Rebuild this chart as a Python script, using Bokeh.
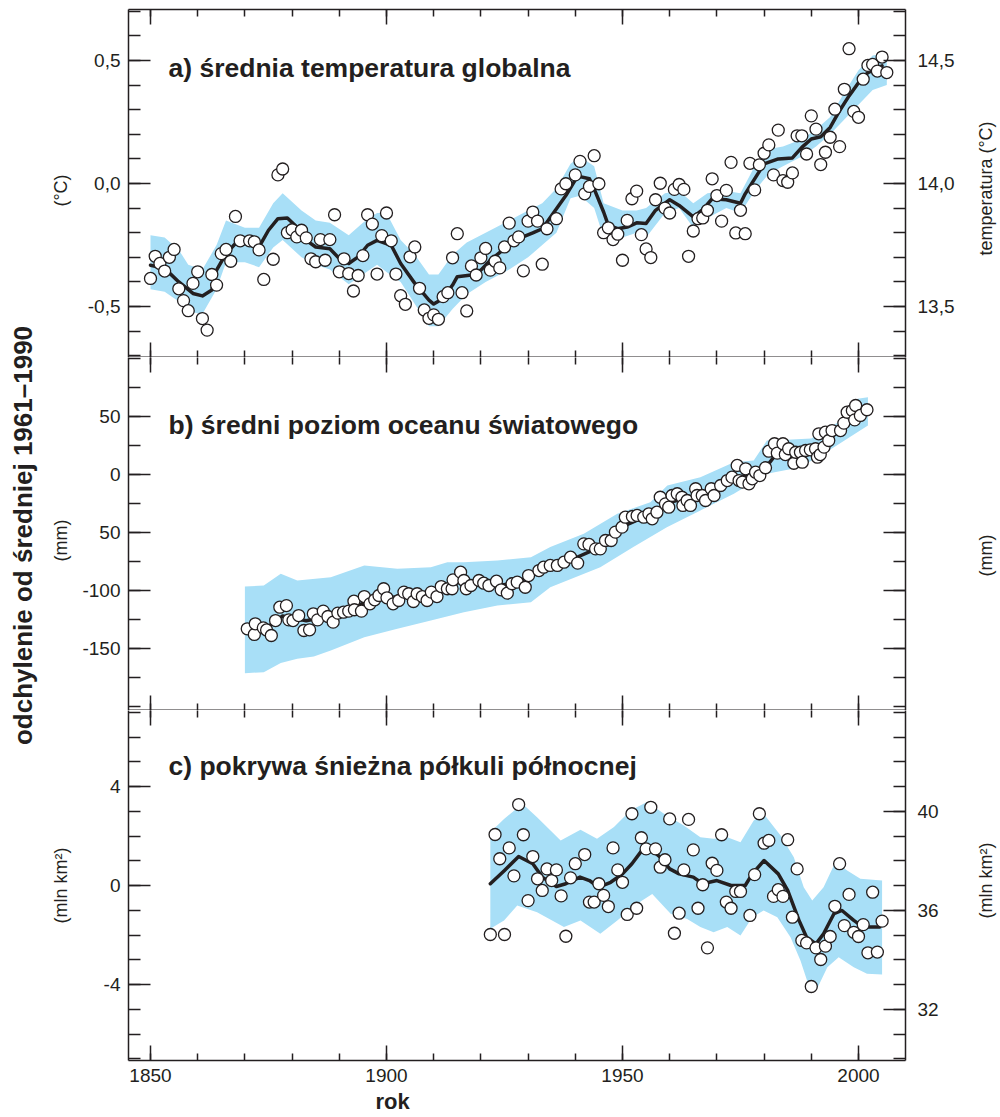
import math
from bokeh.plotting import figure
from bokeh.layouts import column, row
from bokeh.models import Range1d, LinearAxis, FixedTicker, Label, Title
from bokeh.embed import file_html
from bokeh.resources import INLINE

# ---------------- data ----------------
# a) global mean temperature anomaly (degC, vs 1961-1990)
temp_years = [1850, 1851, 1852, 1853, 1854, 1855, 1856, 1857, 1858, 1859, 1860, 1861, 1862, 1863,
              1864, 1865, 1866, 1867, 1868, 1869, 1871, 1872, 1873, 1874, 1876, 1877, 1878, 1879,
              1880, 1881, 1882, 1883, 1884, 1885, 1886, 1887, 1888, 1889, 1890, 1891, 1892, 1893,
              1894, 1895, 1896, 1897, 1898, 1899, 1900, 1901, 1902, 1903, 1904, 1905, 1906, 1907,
              1908, 1909, 1910, 1911, 1912, 1913, 1914, 1915, 1916, 1917, 1918, 1919, 1920, 1921,
              1922, 1923, 1924, 1925, 1926, 1927, 1928, 1929, 1930, 1931, 1932, 1933, 1934, 1936,
              1937, 1938, 1940, 1941, 1942, 1943, 1944, 1945, 1946, 1947, 1948, 1949, 1950, 1951,
              1952, 1953, 1954, 1955, 1956, 1957, 1958, 1959, 1960, 1961, 1962, 1963, 1964, 1965,
              1966, 1967, 1968, 1969, 1970, 1971, 1972, 1973, 1974, 1975, 1976, 1977, 1978, 1979,
              1980, 1981, 1982, 1983, 1984, 1985, 1986, 1987, 1988, 1989, 1990, 1991, 1992, 1993,
              1994, 1995, 1996, 1997, 1998, 1999, 2000, 2001, 2002, 2003, 2004, 2005, 2006]
temp_vals = [-0.386, -0.296, -0.325, -0.356, -0.300, -0.268, -0.428, -0.476, -0.517, -0.406, -0.359,
             -0.549, -0.596, -0.370, -0.413, -0.285, -0.268, -0.316, -0.134, -0.233, -0.233, -0.237,
             -0.270, -0.390, -0.308, 0.035, 0.059, -0.200, -0.188, -0.217, -0.190, -0.221, -0.306,
             -0.318, -0.228, -0.312, -0.228, -0.127, -0.359, -0.306, -0.366, -0.437, -0.374, -0.293,
             -0.127, -0.165, -0.368, -0.212, -0.120, -0.233, -0.368, -0.456, -0.491, -0.298, -0.258,
             -0.426, -0.514, -0.548, -0.534, -0.552, -0.460, -0.444, -0.302, -0.204, -0.444, -0.518,
             -0.335, -0.372, -0.302, -0.264, -0.352, -0.316, -0.343, -0.258, -0.161, -0.233, -0.217,
             -0.355, -0.153, -0.116, -0.153, -0.328, -0.184, -0.143, -0.022, -0.001, 0.035, 0.090,
             -0.042, -0.012, 0.113, -0.001, -0.200, -0.180, -0.228, -0.206, -0.312, -0.150, -0.062,
             -0.031, -0.208, -0.266, -0.301, -0.066, 0.001, -0.100, -0.120, -0.024, -0.004, -0.024,
             -0.296, -0.193, -0.143, -0.140, -0.109, 0.019, -0.049, -0.153, -0.028, 0.086, -0.201,
             -0.109, -0.204, 0.082, -0.026, 0.076, 0.123, 0.157, 0.035, 0.217, 0.012, 0.005, 0.043,
             0.194, 0.194, 0.120, 0.275, 0.221, 0.077, 0.127, 0.188, 0.302, 0.150, 0.383, 0.548,
             0.293, 0.269, 0.424, 0.480, 0.484, 0.457, 0.514, 0.451]
temp_smooth_years = [1850, 1853, 1856, 1859, 1861, 1863, 1864, 1866, 1868, 1871, 1873, 1875, 1877,
                     1879, 1881, 1883, 1885, 1888, 1890, 1892, 1894, 1896, 1898, 1901, 1903, 1906,
                     1909, 1910, 1912, 1914, 1915, 1918, 1920, 1922, 1925, 1928, 1931, 1933, 1935,
                     1938, 1940, 1941, 1943, 1944, 1946, 1947, 1949, 1951, 1953, 1955, 1957, 1960,
                     1962, 1965, 1967, 1969, 1972, 1975, 1976, 1978, 1980, 1983, 1986, 1988, 1990,
                     1992, 1994, 1996, 1998, 2000, 2002, 2005]
temp_smooth = [-0.332, -0.345, -0.400, -0.447, -0.457, -0.433, -0.352, -0.285, -0.244, -0.244, -0.258,
               -0.190, -0.143, -0.140, -0.177, -0.231, -0.258, -0.265, -0.305, -0.325, -0.298, -0.251,
               -0.231, -0.251, -0.325, -0.406, -0.474, -0.490, -0.467, -0.413, -0.379, -0.372, -0.352,
               -0.312, -0.265, -0.224, -0.201, -0.184, -0.130, -0.049, 0.015, 0.028, 0.019, -0.022,
               -0.116, -0.170, -0.184, -0.177, -0.160, -0.163, -0.109, -0.066, -0.089, -0.136, -0.106,
               -0.062, -0.066, -0.080, -0.042, 0.019, 0.080, 0.100, 0.104, 0.147, 0.181, 0.190, 0.228,
               0.296, 0.356, 0.410, 0.451, 0.478]
temp_band_years = [1850, 1853, 1856, 1858, 1861, 1864, 1866, 1870, 1873, 1876, 1878, 1882, 1885, 1888,
                   1892, 1895, 1898, 1900, 1903, 1906, 1909, 1911, 1914, 1917, 1921, 1926, 1930, 1933,
                   1936, 1939, 1941, 1944, 1946, 1950, 1953, 1955, 1959, 1962, 1965, 1968, 1972, 1975,
                   1978, 1981, 1984, 1988, 1991, 1994, 1997, 2000, 2003, 2006]
temp_band_hi = [-0.21, -0.22, -0.27, -0.33, -0.35, -0.25, -0.15, -0.18, -0.18, -0.08, -0.04, -0.11,
                -0.15, -0.16, -0.21, -0.16, -0.12, -0.12, -0.23, -0.29, -0.37, -0.37, -0.29, -0.24,
                -0.20, -0.15, -0.11, -0.08, -0.02, 0.08, 0.11, 0.07, -0.08, -0.11, -0.11, -0.10,
                -0.04, -0.03, -0.08, -0.04, -0.03, -0.04, 0.07, 0.14, 0.15, 0.18, 0.22, 0.27, 0.37,
                0.46, 0.52, 0.53]
temp_band_lo = [-0.43, -0.44, -0.48, -0.52, -0.53, -0.43, -0.32, -0.32, -0.34, -0.26, -0.23, -0.30,
                -0.33, -0.35, -0.41, -0.37, -0.33, -0.36, -0.40, -0.49, -0.58, -0.58, -0.51, -0.45,
                -0.40, -0.35, -0.30, -0.25, -0.20, -0.06, -0.05, -0.10, -0.22, -0.22, -0.20, -0.22,
                -0.12, -0.10, -0.18, -0.14, -0.10, -0.12, -0.03, 0.04, 0.07, 0.11, 0.15, 0.20, 0.26,
                0.32, 0.38, 0.40]
temp_baseline = 14.0  # right axis: absolute temperature = anomaly + 14.0

# b) global mean sea level (mm)
sea_years = [1870.5, 1872.0, 1872.2, 1873.9, 1874.6, 1875.6, 1876.5, 1877.4, 1878.8, 1879.3, 1880.2,
             1881.4, 1882.5, 1883.7, 1884.5, 1885.4, 1886.6, 1887.6, 1888.7, 1889.7, 1890.9, 1892.0,
             1893.1, 1893.2, 1894.7, 1895.3, 1896.5, 1897.5, 1898.4, 1899.4, 1900.1, 1901.4, 1902.6,
             1903.7, 1904.7, 1905.7, 1906.5, 1907.6, 1908.6, 1909.5, 1910.7, 1911.6, 1912.9, 1913.9,
             1914.1, 1915.7, 1916.4, 1916.9, 1917.9, 1919.6, 1920.6, 1921.7, 1923.3, 1924.3, 1925.6,
             1926.6, 1927.7, 1929.4, 1930.1, 1932.3, 1933.3, 1934.7, 1936.2, 1937.6, 1939.0, 1940.5,
             1941.8, 1942.9, 1944.3, 1945.3, 1946.4, 1947.6, 1948.5, 1949.9, 1950.6, 1952.1, 1953.1,
             1954.5, 1955.6, 1956.3, 1957.3, 1958.0, 1959.1, 1959.8, 1960.5, 1961.6, 1962.6, 1962.8,
             1963.7, 1964.4, 1965.5, 1965.8, 1966.9, 1967.6, 1968.8, 1969.4, 1970.8, 1972.2, 1973.2,
             1974.3, 1974.7, 1975.4, 1976.1, 1976.8, 1977.5, 1978.2, 1979.1, 1980.3, 1981.0, 1982.2,
             1982.8, 1984.0, 1984.5, 1985.2, 1986.3, 1986.7, 1987.7, 1988.1, 1988.8, 1989.8, 1990.9,
             1991.3, 1991.6, 1991.9, 1992.7, 1993.0, 1993.7, 1994.4, 1996.2, 1996.9, 1997.6, 1998.7,
             1999.2, 1999.4, 2000.4, 2001.8]
sea_vals = [-133.0, -137.9, -128.7, -132.2, -134.0, -138.8, -125.9, -114.4, -113.0, -125.3, -125.9,
            -121.6, -134.5, -133.9, -120.1, -125.3, -117.8, -122.4, -127.3, -119.5, -118.7, -117.8,
            -109.2, -116.6, -117.8, -105.2, -111.5, -108.0, -104.3, -98.5, -106.3, -111.5, -108.6,
            -101.4, -102.8, -109.5, -102.8, -105.2, -108.6, -101.4, -105.2, -96.6, -98.5, -98.5,
            -90.8, -84.2, -91.4, -98.5, -95.7, -91.4, -93.7, -95.7, -92.0, -99.4, -102.3,
            -94.2, -92.8, -97.2, -87.1, -82.8, -79.9, -78.4, -78.4, -75.6, -71.3, -76.4,
            -59.8, -60.3, -64.1, -64.1, -56.9, -56.9, -49.7, -45.4, -36.8, -36.2, -35.3,
            -36.8, -33.9, -38.2, -32.5, -19.6, -25.3, -28.2, -18.1, -16.6, -19.6, -26.7,
            -22.4, -26.7, -12.3, -18.1, -18.1, -22.4, -12.3, -18.1, -9.5, -5.2, -2.3,
            7.8, -5.2, -6.6, 4.9, -8.0, -3.7, 2.0, -0.9, 5.8, 20.1, 26.5,
            18.4, 26.5, 17.2, 22.2, 9.7, 19.2, 19.2, 10.6, 20.7, 21.3, 22.2,
            14.9, 35.1, 17.2, 23.6, 36.5, 29.3, 37.9, 37.9, 44.3, 53.7, 55.2,
            47.1, 59.5, 50.9, 55.8]
sea_smooth_years = [1870, 1875, 1878, 1883, 1888, 1893, 1895, 1900, 1905, 1910, 1915, 1920, 1925, 1930,
                    1935, 1940, 1945, 1950, 1955, 1960, 1965, 1970, 1975, 1980, 1983, 1988, 1992, 1995,
                    2000, 2002]
sea_smooth = [-133, -131, -122, -126, -122, -115, -111, -106, -105, -103, -93, -94, -95, -89,
              -79, -72, -63, -45, -36, -24, -19, -11, -2, 4, 20, 18, 21, 35, 50, 56]
sea_band_top_years = [1870, 1874, 1877.6, 1881.1, 1888.2, 1895.3, 1902.3, 1909.4, 1912.9, 1916.4,
                      1923.5, 1930.6, 1934.7, 1941.8, 1948.9, 1955.9, 1959.5, 1966.5, 1973.6, 1977.8,
                      1980.6, 1984.8, 1990.0, 1996.3, 1999.8, 2002.0]
sea_band_top = [-96.6, -95.7, -85.6, -91.4, -88.5, -78.4, -81.3, -79.9, -75.6, -75.6,
                -74.1, -71.3, -62.6, -51.1, -33.9, -23.9, -9.5, -2.3, 10.6, 12.0,
                29.3, 29.9, 31.0, 46.6, 65.3, 66.6]
sea_band_bot_years = [1870, 1874, 1877.6, 1881.1, 1884.6, 1888.2, 1895.3, 1902.3, 1909.4, 1916.4,
                      1923.5, 1930.6, 1934.7, 1945.3, 1952.3, 1959.4, 1966.5, 1973.6, 1980.6, 1987.7,
                      1994.8, 2002.0]
sea_band_bot = [-171.3, -170.4, -162.6, -158.9, -156.9, -151.7, -140.2, -133.0, -125.9, -118.7,
                -112.9, -110.1, -97.2, -79.9, -62.6, -45.4, -31.0, -16.6, 0.6, 6.3,
                23.5, 42.2]

# c) Northern Hemisphere snow cover (million km2)
snow_years = [1922, 1923, 1924, 1925, 1926, 1927, 1928, 1929, 1930, 1931, 1932, 1933, 1934, 1935,
              1936, 1937, 1938, 1939, 1940, 1942, 1943, 1944, 1945, 1946, 1947, 1948, 1949, 1950,
              1951, 1952, 1953, 1954, 1955, 1956, 1957, 1958, 1959, 1960, 1961, 1962, 1963, 1964,
              1965, 1966, 1967, 1968, 1969, 1970, 1971, 1972, 1973, 1974, 1975, 1977, 1978, 1979,
              1980, 1981, 1982, 1983, 1984, 1985, 1986, 1987, 1988, 1989, 1990, 1991, 1992, 1993,
              1994, 1995, 1996, 1997, 1998, 1999, 2000, 2001, 2002, 2003, 2004, 2005]
snow_vals = [-1.98, 2.06, 1.08, -1.98, 1.52, 0.39, 3.27, 2.05, -0.61, 1.17, 0.27, -0.20, 0.67, 0.20,
             0.63, -0.42, -2.05, 0.31, 0.88, 1.25, -0.67, -0.67, 0.07, -0.40, -0.85, 1.52, 0.63, 0.13,
             -1.17, 2.90, -0.92, 1.93, 1.48, 3.16, 1.48, 0.74, 1.04, 2.69, -1.93, -1.12, 0.63, 2.67,
             1.44, -0.92, 0.03, -2.52, 0.90, 0.61, 2.05, -0.67, -0.92, -0.24, -0.24, -1.21, 0.44, 2.90,
             1.71, 1.82, -0.44, -0.17, -0.44, 1.85, -1.28, 0.67, -2.22, -2.32, -4.08, -2.52, -2.99,
             -2.45, -2.06, -0.84, 0.88, -1.62, -0.36, -1.89, -2.06, -1.58, -2.72, -0.27, -2.69, -1.44]
snow_smooth_years = [1922, 1925, 1928, 1931, 1933, 1936, 1938, 1941, 1943, 1945, 1947.5, 1950, 1952,
                     1954, 1956, 1958, 1960, 1962, 1965, 1967, 1970, 1973, 1976, 1977.5, 1980, 1983,
                     1985, 1987.4, 1989, 1991, 1992.6, 1994.8, 1996.5, 1999, 2001, 2004.5]
snow_smooth = [0.07, 0.61, 1.17, 0.88, 0.34, -0.04, 0.07, 0.34, 0.20, -0.07, 0.13, 0.47, 0.88,
               1.39, 1.48, 1.14, 0.67, 0.47, 0.34, 0.07, 0.20, 0.00, 0.00, 0.47, 1.01, 0.47,
               -0.20, -1.41, -2.09, -2.36, -1.95, -1.14, -1.01, -1.41, -1.68, -1.68]
snow_band_top_years = [1922, 1924.9, 1928.8, 1931.9, 1936.9, 1941.1, 1944.6, 1948.2, 1951.7, 1955.2,
                       1958.8, 1963.0, 1966.5, 1969.3, 1972.2, 1975.0, 1977.8, 1979.9, 1983.5, 1986.3,
                       1988.4, 1990.2, 1992.6, 1995.1, 1997.6, 2000.4, 2005.0]
snow_band_top = [2.15, 2.69, 3.30, 2.76, 1.82, 2.25, 1.89, 2.36, 3.03, 3.37,
                 2.90, 2.42, 1.95, 1.89, 1.95, 1.75, 2.63, 2.90, 2.02, 1.14,
                 -0.07, -0.61, -0.07, 0.94, 0.61, 0.27, 0.20]
snow_band_bot_years = [1922, 1924.9, 1927.7, 1931.9, 1937.6, 1941.1, 1945.3, 1948.9, 1953.1, 1956.3,
                       1960.2, 1963.7, 1966.5, 1969.3, 1972.2, 1975.0, 1977.5, 1979.9, 1982.8, 1985.6,
                       1987.7, 1989.8, 1991.2, 1993.4, 1995.8, 1999.0, 2001.8, 2005.0]
snow_band_bot = [-1.75, -1.41, -0.81, -1.08, -1.68, -1.41, -1.95, -1.41, -0.74, -0.34,
                 -1.14, -1.35, -1.68, -1.89, -1.68, -2.02, -1.28, -1.01, -1.28, -2.09,
                 -3.03, -4.24, -4.18, -3.30, -2.90, -3.30, -3.57, -3.60]
snow_baseline = 37.0  # right axis: absolute snow cover = anomaly + 37

x_major = [1850, 1900, 1950, 2000]
x_minor = list(range(1850, 2011, 10))

# ---------------- styling / layout ----------------
INK = "#231f20"
BLUE = "#a8dff7"
SANS = "Liberation Sans"
X0, X1 = 1845.34, 2009.96
PAGE_H = 1117
LW, RW = 78, 40          # side label strips
MAIN_W = 1000 - LW - RW  # central panels
LEFT = 128 - LW          # frame starts at page x = 128
RIGHT = 960 - 905        # frame ends at page x = 905


def yA(px):
    return (183 - px) / 246.0


def yB(px):
    return (474 - px) / 1.16


def yC(px):
    return (885 - px) / 24.75


def xat(px):
    return X0 + (px - 128) * (X1 - X0) / 777.0


def bare_fig(width, x0, x1):
    p = figure(width=width, height=PAGE_H, x_range=Range1d(x0, x1), y_range=Range1d(PAGE_H, 0),
               output_backend="svg", toolbar_location=None,
               x_axis_location=None, y_axis_location=None,
               min_border_left=0, min_border_right=0, min_border_top=0, min_border_bottom=0)
    p.xgrid.visible = False
    p.ygrid.visible = False
    p.outline_line_color = None
    p.background_fill_color = "white"
    p.border_fill_color = "white"
    return p


def side_text(p, x, y, s, size="18px", bold=False):
    p.add_layout(Label(x=x, y=y, text=s, text_font=SANS, text_font_size=size,
                       text_font_style="bold" if bold else "normal", text_color=INK,
                       angle=math.pi / 2, text_align="center", text_baseline="middle"))


def base_fig(height, yr, top, bottom):
    p = figure(width=MAIN_W, height=height, x_range=Range1d(X0, X1), y_range=Range1d(*yr),
               output_backend="svg", toolbar_location=None,
               x_axis_location=None, y_axis_location=None,
               min_border_left=LEFT, min_border_right=RIGHT,
               min_border_top=top, min_border_bottom=bottom)
    p.xgrid.visible = False
    p.ygrid.visible = False
    p.outline_line_color = None
    p.background_fill_color = "white"
    p.border_fill_color = "white"
    return p


def add_axis(p, side, major, minor, tin, tmin, labels=None, range_name=None, standoff=8,
             line=True, line_width=1.5):
    kw = {}
    if range_name:
        kw["y_range_name"] = range_name
    ax = LinearAxis(ticker=FixedTicker(ticks=major, minor_ticks=minor), **kw)
    ax.major_tick_in = tin
    ax.major_tick_out = 0
    ax.minor_tick_in = tmin
    ax.minor_tick_out = 0
    ax.axis_line_color = INK if line else None
    ax.axis_line_width = line_width
    ax.major_tick_line_color = INK
    ax.major_tick_line_width = 1.5
    ax.minor_tick_line_color = INK
    ax.minor_tick_line_width = 1.5
    ax.major_label_text_font = SANS
    ax.major_label_text_color = INK
    if labels is None:
        ax.major_label_overrides = {t: "" for t in major}
        ax.major_label_text_font_size = "0px"
        ax.major_label_standoff = 0
    else:
        ax.major_label_overrides = dict(zip(major, labels))
        ax.major_label_text_font_size = "19px"
        ax.major_label_standoff = standoff
    p.add_layout(ax, side)
    return ax


def panel_title(p, x, y, s):
    p.add_layout(Label(x=x, y=y, text=s, text_font=SANS, text_font_size="26.5px",
                       text_font_style="bold", text_color=INK, text_align="left",
                       text_baseline="alphabetic"))


def draw(p, bx_top, by_top, bx_bot, by_bot, sx, sy, px, py):
    p.patch(x=list(bx_top) + list(bx_bot)[::-1], y=list(by_top) + list(by_bot)[::-1],
            fill_color=BLUE, line_color=None)
    p.line(sx, sy, line_color=INK, line_width=3.5, line_join="round", line_cap="round")
    p.scatter(px, py, size=12, marker="circle", fill_color="white", line_color=INK, line_width=1.3)


# ---- panel a ----
YA = (yA(357), yA(9))
pa = base_fig(357, YA, 9, 0)
pa.extra_y_ranges = {"r": Range1d(YA[0] + temp_baseline, YA[1] + temp_baseline)}
draw(pa, temp_band_years, temp_band_hi, temp_band_years, temp_band_lo,
     temp_smooth_years, temp_smooth, temp_years, temp_vals)
add_axis(pa, "below", x_major, x_minor, 15, 7, line_width=2)
add_axis(pa, "above", x_major, x_minor, 15, 7)
a_minor = [round(-0.7 + 0.1 * i, 1) for i in range(15)]
add_axis(pa, "left", [-0.5, 0.0, 0.5], a_minor, 22, 12, ["-0,5", "0,0", "0,5"])
ar_minor = [round(13.3 + 0.1 * i, 1) for i in range(15)]
add_axis(pa, "right", [13.5, 14.0, 14.5], ar_minor, 22, 12, ["13,5", "14,0", "14,5"], "r", 12)
panel_title(pa, xat(168), yA(67), "a) średnia temperatura globalna")

# ---- panel b ----
YB = (yB(710), yB(357))
pb = base_fig(353, YB, 0, 0)
draw(pb, sea_band_top_years, sea_band_top, sea_band_bot_years, sea_band_bot,
     sea_smooth_years, sea_smooth, sea_years, sea_vals)
add_axis(pb, "below", x_major, x_minor, 15, 7, line_width=2)
add_axis(pb, "above", x_major, x_minor, 15, 7, line=False)
b_major = [-150, -100, -50, 0, 50]
b_minor = list(range(-200, 101, 25))
add_axis(pb, "left", b_major, b_minor, 22, 12, ["-150", "-100", "50", "0", "50"])
add_axis(pb, "right", b_major, b_minor, 22, 12)
panel_title(pb, xat(168), yB(424), "b) średni poziom oceanu światowego")

# ---- panel c ----
YC = (yC(1060), yC(710))
pc = base_fig(407, YC, 0, 57)
pc.extra_y_ranges = {"r": Range1d(YC[0] + snow_baseline, YC[1] + snow_baseline)}
draw(pc, snow_band_top_years, snow_band_top, snow_band_bot_years, snow_band_bot,
     snow_smooth_years, snow_smooth, snow_years, snow_vals)
add_axis(pc, "below", x_major, x_minor, 15, 7, [str(v) for v in x_major])
add_axis(pc, "above", x_major, x_minor, 15, 7, line=False)
add_axis(pc, "left", [-4, 0, 4], list(range(-7, 8)), 22, 12, ["-4", "0", "4"])
add_axis(pc, "right", [32, 36, 40], list(range(30, 45)), 22, 12, ["32", "36", "40"], "r", 12)
pc.add_layout(Title(text="rok", align="left", offset=247, text_font=SANS, text_font_size="22px",
                    text_font_style="bold", text_color=INK, standoff=4), "below")
panel_title(pc, xat(168), yC(765), "c) pokrywa śnieżna półkuli północnej")

# ---- side strips with the vertical axis titles (page-pixel coordinates) ----
left = bare_fig(LW, 0, LW)
side_text(left, 22, 535, "odchylenie od średniej 1961–1990", size="26px", bold=True)
side_text(left, 60, 190, "(°C)")
side_text(left, 60, 540, "(mm)")
side_text(left, 60, 885, "(mln km²)")

right = bare_fig(RW, 960, 1000)
side_text(right, 985, 188, "temperatura (°C)")
side_text(right, 985, 555, "(mm)")
side_text(right, 985, 880, "(mln km²)")

layout = row(left, column(pa, pb, pc), right)
open("out.html", "w").write(file_html(layout, INLINE))
